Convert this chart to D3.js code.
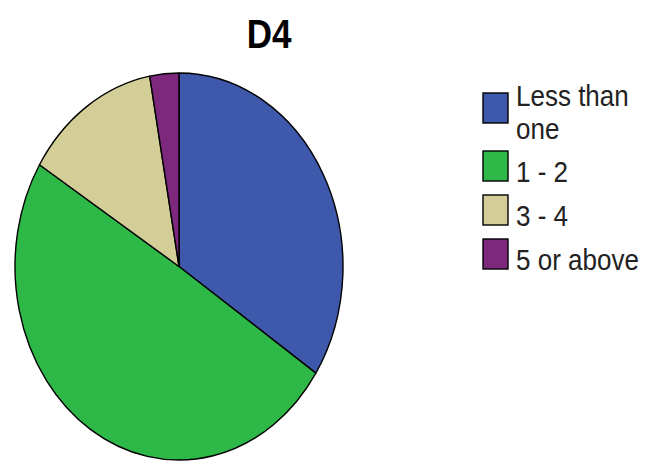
<!DOCTYPE html>
<html><head><meta charset="utf-8">
<script src="https://cdn.jsdelivr.net/npm/d3@7"></script>
<style>html,body{margin:0;padding:0;background:#fff;}svg{display:block;}</style>
</head><body>
<svg id="chart" width="654" height="463"></svg>
<script>
const title = "D4";
const categories = ["Less than one", "1 - 2", "3 - 4", "5 or above"];
const legendLines = [["Less than", "one"], ["1 - 2"], ["3 - 4"], ["5 or above"]];
const counts = [36, 52, 14, 3];
const colors = ["#3E58AC", "#2EB848", "#D3CE97", "#7C287D"];

const svg = d3.select("#chart");
const cx = 179, cy = 266.5, rx = 164, ry = 193.5;
const yStretch = ry / rx;

const pie = d3.pie().sort(null).value(d => d)(counts);
const arc = d3.arc().innerRadius(0).outerRadius(rx);

const pieG = svg.append("g")
  .attr("transform", `translate(${cx},${cy}) scale(1,${yStretch})`);
pieG.selectAll("path").data(pie).join("path")
  .attr("d", arc)
  .attr("fill", (d, i) => colors[i])
  .attr("stroke", "#000")
  .attr("stroke-width", 1.4)
  .attr("vector-effect", "non-scaling-stroke")
  .attr("stroke-linejoin", "round");

svg.append("text")
  .attr("transform", `translate(269,48) scale(1,1.18)`)
  .attr("text-anchor", "middle")
  .attr("font-family", "Liberation Sans, Arial, sans-serif")
  .attr("font-weight", "bold")
  .attr("font-size", 35)
  .attr("fill", "#000")
  .text(title);

const legend = svg.append("g");
const sw = 25, sh = 30;
const items = legend.selectAll("g").data(categories).join("g")
  .attr("transform", (d, i) => `translate(483,${[93, 151, 195, 239][i]})`);
items.append("rect")
  .attr("width", sw).attr("height", sh)
  .attr("fill", (d, i) => colors[i])
  .attr("stroke", "#000").attr("stroke-width", 1.4);
items.each(function(d, i) {
  const g = d3.select(this);
  legendLines[i].forEach((line, j) => {
    g.append("text")
      .attr("transform", `translate(33,${(i === 0 ? 13 : 31) + j * 33}) scale(1,1.1)`)
      .attr("font-family", "Liberation Sans, Arial, sans-serif")
      .attr("font-size", 26)
      .attr("fill", "#222")
      .text(line);
  });
});
</script>
</body></html>
